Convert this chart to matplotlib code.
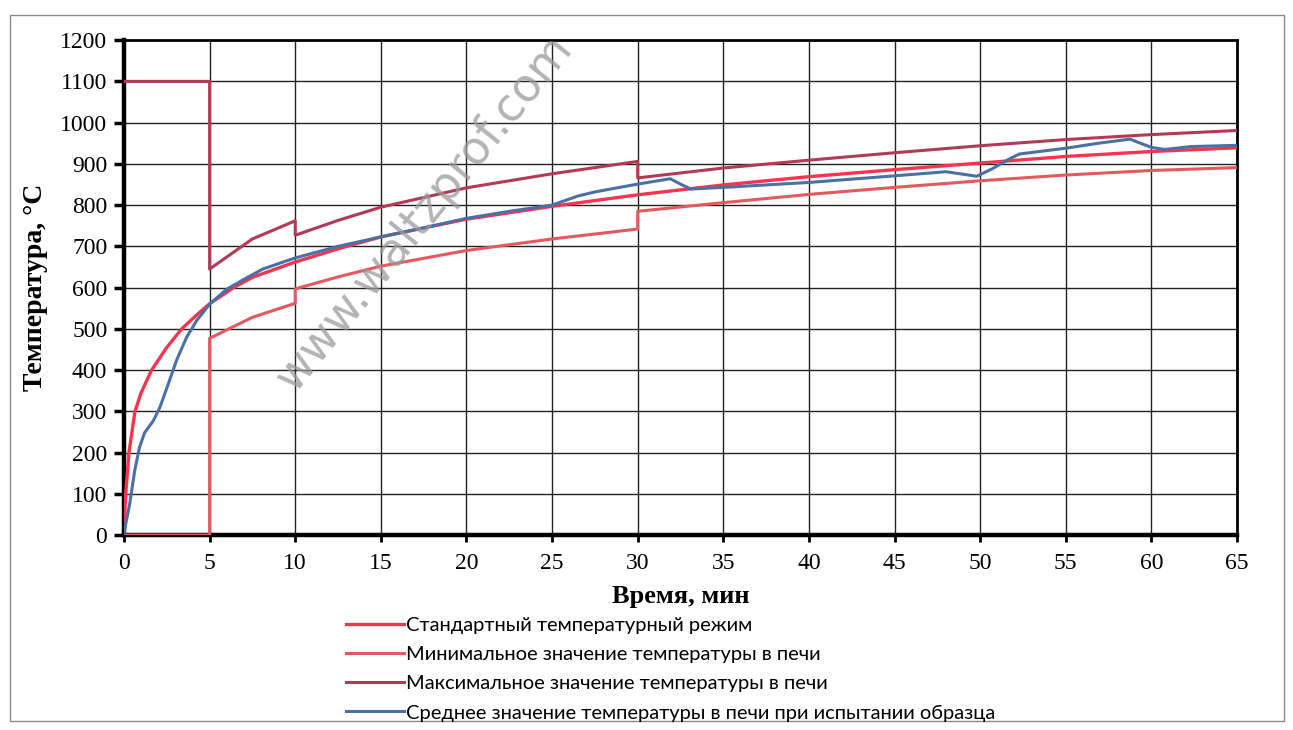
import matplotlib

matplotlib.use("Agg")
import matplotlib.pyplot as plt
from matplotlib.patches import Rectangle

# time, min / temperature, C
t_std = [0, 0.1, 0.29, 0.64, 1.0, 1.61, 2.5, 3.37, 4.2, 5, 6.4, 7.5, 10, 12.5,
         15, 20, 25, 30, 35, 40, 45, 50, 55, 60, 65]
temp_std = [20, 100, 200, 300, 345, 400, 455, 500, 532, 561, 600, 625, 662, 694,
            723, 766, 797, 825, 849, 869, 886, 902, 918, 930, 939]

t_min = [0, 5, 5, 7.5, 10, 10, 12.5, 15, 20, 25, 30, 30, 35, 40, 45, 50, 55, 60, 65]
temp_min = [0, 0, 477, 528, 562, 597, 626, 652, 690, 718, 742, 785, 806, 826, 843,
            859, 873, 884, 891]

t_max = [0, 5, 5, 7.5, 10, 10, 12.5, 15, 20, 25, 30, 30, 35, 40, 45, 50, 55, 60, 65]
temp_max = [1100, 1100, 645, 718, 762, 727, 763, 795, 842, 876, 906, 866, 890, 909,
            927, 944, 959, 971, 981]

t_avg = [0, 0.33, 0.62, 0.9, 1.2, 1.71, 2.1, 2.59, 3.07, 3.66, 4.24, 5.0, 6.0, 7.0,
         8.1, 10, 12.5, 15, 17.5, 20, 22.5, 25, 26.5, 27.5, 30, 31.9, 32.5, 33.1,
         35, 40, 45, 48, 49.8, 50.7, 51.7, 52.3, 55, 56.9, 58.75, 59.3, 60, 60.8,
         62.3, 65]
temp_avg = [5, 75, 155, 212, 248, 277, 310, 367, 424, 480, 520, 560, 596, 620,
            645, 672, 700, 723, 745, 768, 785, 800, 822, 832, 851, 864, 851, 839,
            843, 855, 871, 881, 870, 888, 912, 924, 938, 950, 960, 951, 940, 935,
            942, 945]

labels = [
    "Стандартный температурный режим",
    "Минимальное значение температуры в печи",
    "Максимальное значение температуры в печи",
    "Среднее значение температуры в печи при испытании образца",
]

x_ticks = list(range(0, 70, 5))
y_ticks = list(range(0, 1300, 100))

fig = plt.figure(figsize=(12.93, 7.30), dpi=100)
ax = fig.add_axes([0.0959, 0.267, 0.8608, 0.678])

# outer frame of the picture
fig.patches.append(Rectangle((0.008, 0.012), 0.985, 0.968, transform=fig.transFigure,
                             fill=False, edgecolor="#8a8a8a", lw=1.0))

ax.grid(True, color="#222222", lw=1.0)
ax.set_axisbelow(True)

l_min, = ax.plot(t_min, temp_min, color="#e4585e", lw=2.2, zorder=3)
l_max, = ax.plot(t_max, temp_max, color="#b23a55", lw=2.2, zorder=3)
l_std, = ax.plot(t_std, temp_std, color="#f5344f", lw=2.4, zorder=4)
l_avg, = ax.plot(t_avg, temp_avg, color="#4a70a6", lw=2.2, zorder=5)

ax.set_xlim(0, 65)
ax.set_ylim(0, 1200)
ax.set_xticks(x_ticks)
ax.set_yticks(y_ticks)

serif = "Liberation Serif"
ax.set_xticklabels([str(v) for v in x_ticks], family=serif, fontsize=17)
ax.set_yticklabels([str(v) for v in y_ticks], family=serif, fontsize=17)
ax.tick_params(axis="y", direction="out", length=7, width=2.5, pad=5)
ax.tick_params(axis="x", direction="out", length=5, width=2, pad=8)

for side in ["left", "bottom"]:
    ax.spines[side].set_linewidth(3.2)
for side in ["top", "right"]:
    ax.spines[side].set_linewidth(2.0)

ax.set_xlabel("Время, мин", family=serif, fontsize=19, fontweight="bold", labelpad=8)
ax.set_ylabel("Температура, °C", family=serif, fontsize=20, fontweight="bold",
              labelpad=9)

fig.legend([l_std, l_min, l_max, l_avg], labels, loc="upper left",
           bbox_to_anchor=(0.261, 0.166), frameon=False, handlelength=2.9,
           handletextpad=0.1, labelspacing=0.6, borderaxespad=0,
           prop={"family": "Lato", "size": 14.5})

# watermark
fig.text(0.328, 0.708, "www.waltzprof.com", rotation=51, fontsize=33, color="#9a9a9a",
         alpha=0.75, ha="center", va="center", family="DejaVu Sans", zorder=10)

fig.savefig("out.png", dpi=100)
